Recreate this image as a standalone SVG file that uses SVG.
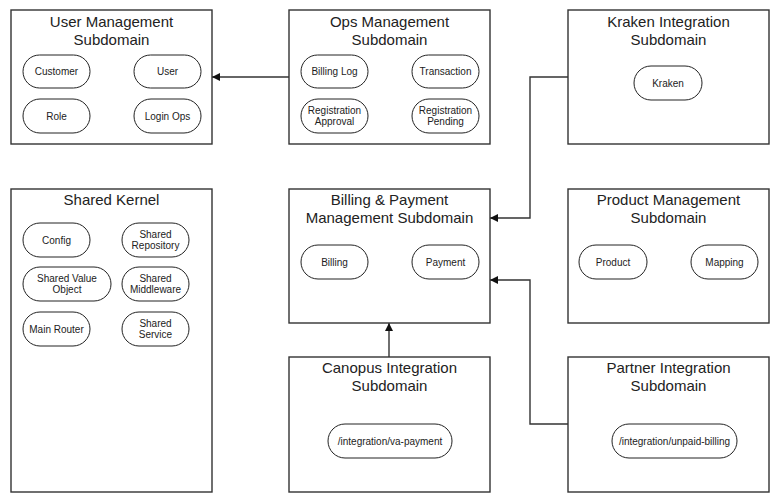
<svg xmlns="http://www.w3.org/2000/svg" width="780" height="500" viewBox="0 0 780 500">
<style>
.box{fill:#fff;stroke:#333;stroke-width:1.4}
.pill{fill:#fff;stroke:#222;stroke-width:1}
.title{font-family:"Liberation Sans",Arial,sans-serif;font-size:15px;fill:#222;text-anchor:middle}
.lbl{font-family:"Liberation Sans",Arial,sans-serif;font-size:10px;fill:#222;text-anchor:middle}
.conn{fill:none;stroke:#333;stroke-width:1.4}
</style>
<defs>
<marker id="arr" viewBox="0 0 10 10" refX="10" refY="5" markerWidth="8" markerHeight="8" markerUnits="userSpaceOnUse" orient="auto">
<path d="M0,0 L10,5 L0,10 z" fill="#111"/>
</marker>
</defs>
<rect width="780" height="500" fill="#fff"/>

<g id="connectors">
<path class="conn" d="M289,77 L212,77" marker-end="url(#arr)"/>
<path class="conn" d="M568,77 L530,77 L530,218 L490,218" marker-end="url(#arr)"/>
<path class="conn" d="M568,424 L530,424 L530,280 L490,280" marker-end="url(#arr)"/>
<path class="conn" d="M389,357 L389,323" marker-end="url(#arr)"/>
</g>

<g id="user-management">
<rect class="box" x="11" y="10" width="201" height="134"/>
<text class="title" x="111.5" y="26.5">User Management</text>
<text class="title" x="111.5" y="44.5">Subdomain</text>
<rect class="pill" x="23" y="55" width="67" height="33" rx="16.5"/>
<text class="lbl" x="56.5" y="75">Customer</text>
<rect class="pill" x="134" y="55" width="67" height="33" rx="16.5"/>
<text class="lbl" x="167.5" y="75">User</text>
<rect class="pill" x="23" y="99" width="67" height="34" rx="17"/>
<text class="lbl" x="56.5" y="119.5">Role</text>
<rect class="pill" x="134" y="99" width="67" height="34" rx="17"/>
<text class="lbl" x="167.5" y="119.5">Login Ops</text>
</g>

<g id="ops-management">
<rect class="box" x="289" y="10" width="201" height="134"/>
<text class="title" x="389.5" y="26.5">Ops Management</text>
<text class="title" x="389.5" y="44.5">Subdomain</text>
<rect class="pill" x="301" y="55" width="67" height="33" rx="16.5"/>
<text class="lbl" x="334.5" y="75">Billing Log</text>
<rect class="pill" x="412" y="55" width="67" height="33" rx="16.5"/>
<text class="lbl" x="445.5" y="75">Transaction</text>
<rect class="pill" x="301" y="99" width="67" height="34" rx="17"/>
<text class="lbl" x="334.5" y="113.5">Registration</text>
<text class="lbl" x="334.5" y="124.5">Approval</text>
<rect class="pill" x="412" y="99" width="67" height="34" rx="17"/>
<text class="lbl" x="445.5" y="113.5">Registration</text>
<text class="lbl" x="445.5" y="124.5">Pending</text>
</g>

<g id="kraken-integration">
<rect class="box" x="568" y="10" width="201" height="134"/>
<text class="title" x="668.5" y="26.5">Kraken Integration</text>
<text class="title" x="668.5" y="44.5">Subdomain</text>
<rect class="pill" x="634" y="66" width="68" height="34" rx="17"/>
<text class="lbl" x="668" y="86.5">Kraken</text>
</g>

<g id="shared-kernel">
<rect class="box" x="11" y="189" width="201" height="303"/>
<text class="title" x="111.5" y="204.5">Shared Kernel</text>
<rect class="pill" x="23" y="223" width="67" height="34" rx="17"/>
<text class="lbl" x="56.5" y="243.5">Config</text>
<rect class="pill" x="122" y="223" width="67" height="34" rx="17"/>
<text class="lbl" x="155.5" y="237.5">Shared</text>
<text class="lbl" x="155.5" y="248.5">Repository</text>
<rect class="pill" x="23" y="267" width="88" height="34" rx="17"/>
<text class="lbl" x="67" y="281.5">Shared Value</text>
<text class="lbl" x="67" y="292.5">Object</text>
<rect class="pill" x="122" y="267" width="67" height="34" rx="17"/>
<text class="lbl" x="155.5" y="281.5">Shared</text>
<text class="lbl" x="155.5" y="292.5">Middleware</text>
<rect class="pill" x="23" y="312" width="67" height="34" rx="17"/>
<text class="lbl" x="56.5" y="332.5">Main Router</text>
<rect class="pill" x="122" y="312" width="67" height="34" rx="17"/>
<text class="lbl" x="155.5" y="326.5">Shared</text>
<text class="lbl" x="155.5" y="337.5">Service</text>
</g>

<g id="billing-payment">
<rect class="box" x="289" y="189" width="201" height="134"/>
<text class="title" x="389.5" y="204.5">Billing &amp; Payment</text>
<text class="title" x="389.5" y="222.5">Management Subdomain</text>
<rect class="pill" x="301" y="245" width="67" height="34" rx="17"/>
<text class="lbl" x="334.5" y="265.5">Billing</text>
<rect class="pill" x="412" y="245" width="67" height="34" rx="17"/>
<text class="lbl" x="445.5" y="265.5">Payment</text>
</g>

<g id="product-management">
<rect class="box" x="568" y="189" width="201" height="134"/>
<text class="title" x="668.5" y="204.5">Product Management</text>
<text class="title" x="668.5" y="222.5">Subdomain</text>
<rect class="pill" x="579" y="245" width="68" height="34" rx="17"/>
<text class="lbl" x="613" y="265.5">Product</text>
<rect class="pill" x="691" y="245" width="67" height="34" rx="17"/>
<text class="lbl" x="724.5" y="265.5">Mapping</text>
</g>

<g id="canopus-integration">
<rect class="box" x="289" y="357" width="201" height="135"/>
<text class="title" x="389.5" y="372.5">Canopus Integration</text>
<text class="title" x="389.5" y="390.5">Subdomain</text>
<rect class="pill" x="328" y="424" width="124" height="34" rx="17"/>
<text class="lbl" x="390" y="444.5">/integration/va-payment</text>
</g>

<g id="partner-integration">
<rect class="box" x="568" y="357" width="201" height="135"/>
<text class="title" x="668.5" y="372.5">Partner Integration</text>
<text class="title" x="668.5" y="390.5">Subdomain</text>
<rect class="pill" x="612" y="424" width="125" height="34" rx="17"/>
<text class="lbl" x="674.5" y="444.5">/integration/unpaid-billing</text>
</g>
</svg>
